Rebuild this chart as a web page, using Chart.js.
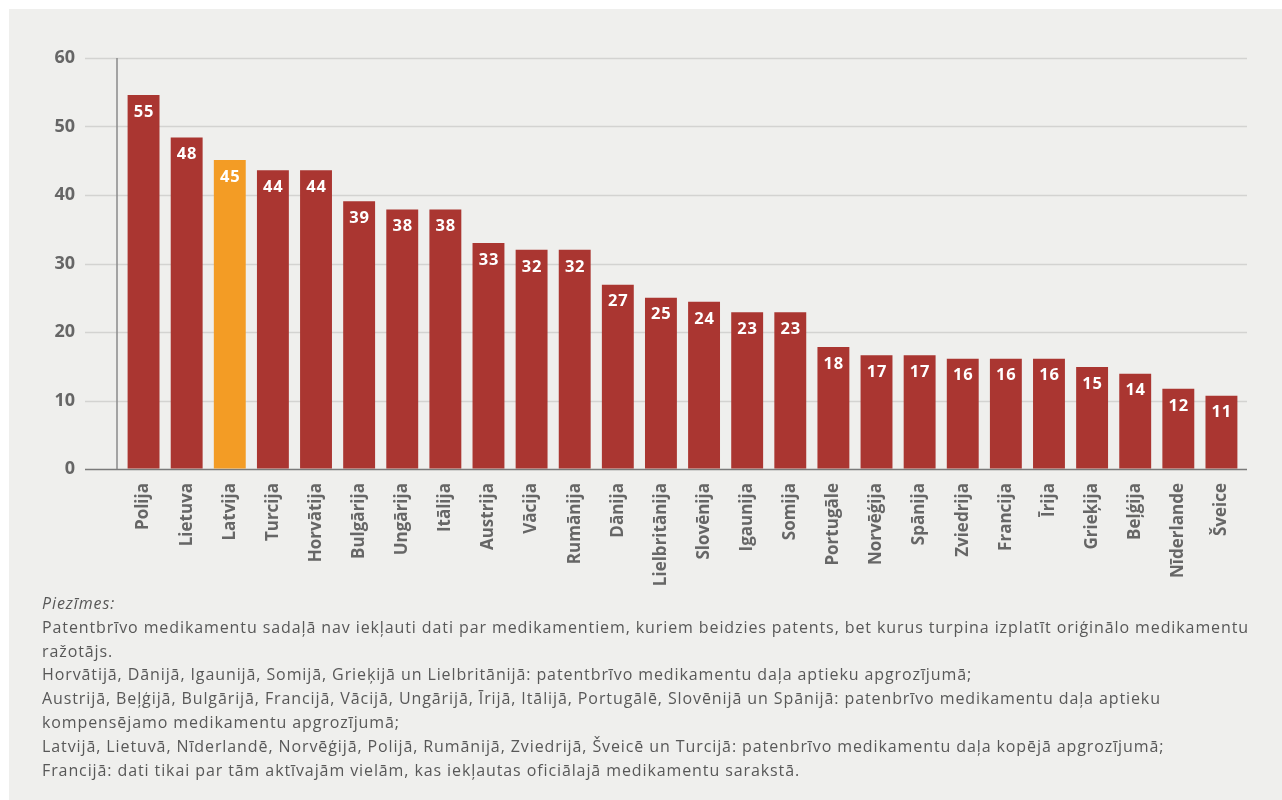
<!DOCTYPE html>
<html>
<head>
<meta charset="utf-8">
<script src="https://cdn.jsdelivr.net/npm/chart.js@4.4.1/dist/chart.umd.min.js"></script>
<style>
  body { margin: 0; background: #ffffff; }
  #panel { position: absolute; left: 9px; top: 9px; width: 1273px; height: 791px; background: #efefed; overflow: hidden; }
  #wrap { position: absolute; left: 0; top: 0; width: 1273px; height: 585px; }
  #piezimes { position: absolute; left: 33px; top: 583px; font-family: "Open Sans", sans-serif; font-size: 16px; letter-spacing: 0.9px; line-height: 23.8px; color: #585858; }
  #piezimes div { white-space: nowrap; }
</style>
</head>
<body>
<div id="panel">
  <div id="wrap"><canvas id="bieuDo"></canvas></div>
  <div id="piezimes">
    <div><i>Piezīmes:</i></div>
    <div>Patentbrīvo medikamentu sadaļā nav iekļauti dati par medikamentiem, kuriem beidzies patents, bet kurus turpina izplatīt oriģinālo medikamentu</div>
    <div>ražotājs.</div>
    <div>Horvātijā, Dānijā, Igaunijā, Somijā, Grieķijā un Lielbritānijā: patentbrīvo medikamentu daļa aptieku apgrozījumā;</div>
    <div>Austrijā, Beļģijā, Bulgārijā, Francijā, Vācijā, Ungārijā, Īrijā, Itālijā, Portugālē, Slovēnijā un Spānijā: patenbrīvo medikamentu daļa aptieku</div>
    <div>kompensējamo medikamentu apgrozījumā;</div>
    <div>Latvijā, Lietuvā, Nīderlandē, Norvēģijā, Polijā, Rumānijā, Zviedrijā, Šveicē un Turcijā: patenbrīvo medikamentu daļa kopējā apgrozījumā;</div>
    <div>Francijā: dati tikai par tām aktīvajām vielām, kas iekļautas oficiālajā medikamentu sarakstā.</div>
  </div>
</div>
<script>
// valstis un patentbrīvo medikamentu daļa (%)
const valstis = ['Polija', 'Lietuva', 'Latvija', 'Turcija', 'Horvātija', 'Bulgārija', 'Ungārija', 'Itālija',
  'Austrija', 'Vācija', 'Rumānija', 'Dānija', 'Lielbritānija', 'Slovēnija', 'Igaunija', 'Somija',
  'Portugāle', 'Norvēģija', 'Spānija', 'Zviedrija', 'Francija', 'Īrija', 'Grieķija', 'Beļģija', 'Nīderlande', 'Šveice'];
const vertibas = [54.6, 48.4, 45.1, 43.6, 43.6, 39.1, 37.9, 37.9, 33.0, 32.0, 32.0, 26.9, 25.0, 24.4, 22.9, 22.9,
  17.8, 16.6, 16.6, 16.1, 16.1, 16.1, 14.9, 13.9, 11.7, 10.7];
const yTicks = [0, 10, 20, 30, 40, 50, 60];
const izcelta = 'Latvija';

const sarkans = '#aa3631';
const oranzs = '#f39c25';
const krasas = valstis.map(v => v === izcelta ? oranzs : sarkans);

// rezgis, ass un vertibu uzraksti
const zimetaji = {
    id: 'zimetaji',
    beforeDatasetsDraw(chart) {
        const c = chart.ctx;
        const a = chart.chartArea;
        const y = chart.scales.y;
        c.save();
        y.ticks.forEach(t => {
            const py = Math.round(y.getPixelForValue(t.value)) + 0.5;
            c.strokeStyle = t.value === 0 ? '#7a7a7a' : '#d3d3d1';
            c.lineWidth = 1.5;
            c.beginPath();
            c.moveTo(a.left - 37, py);
            c.lineTo(a.right + 4, py);
            c.stroke();
        });
        c.strokeStyle = '#8a8a8a';
        c.lineWidth = 1.5;
        c.beginPath();
        c.moveTo(a.left - 5, a.top);
        c.lineTo(a.left - 5, a.bottom);
        c.stroke();
        c.restore();
    },
    afterDatasetsDraw(chart) {
        const c = chart.ctx;
        const meta = chart.getDatasetMeta(0);
        c.save();
        c.fillStyle = '#ffffff';
        c.font = 'bold 16.5px "Open Sans", sans-serif';
        c.letterSpacing = '0.8px';
        c.textAlign = 'center';
        c.textBaseline = 'middle';
        meta.data.forEach((bar, i) => {
            c.fillText(Math.round(vertibas[i]), bar.x + 0.4, bar.y + 17);
        });
        c.restore();
    }
};

new Chart(document.getElementById('bieuDo').getContext('2d'), {
    type: 'bar',
    data: {
        labels: valstis,
        datasets: [{
            data: vertibas,
            backgroundColor: krasas,
            categoryPercentage: 1,
            barPercentage: 0.74
        }]
    },
    options: {
        responsive: true,
        maintainAspectRatio: false,
        animation: false,
        layout: { padding: { top: 49, right: 39, left: 0, bottom: 0 } },
        plugins: {
            legend: { display: false },
            tooltip: { enabled: false }
        },
        scales: {
            x: {
                grid: { display: false },
                border: { display: false },
                ticks: {
                    maxRotation: 90,
                    minRotation: 90,
                    autoSkip: false,
                    padding: 6,
                    color: '#666666',
                    font: { family: '"Open Sans", sans-serif', size: 17, weight: 'bold' }
                },
                afterFit(scale) { scale.height = 125; }
            },
            y: {
                min: 0,
                max: 60,
                afterBuildTicks(scale) { scale.ticks = yTicks.map(v => ({ value: v })); },
                grid: { display: true, drawOnChartArea: false, drawTicks: true, tickLength: 37, color: 'rgba(0,0,0,0)' },
                border: { display: false },
                ticks: {
                    padding: 10,
                    color: '#666666',
                    font: { family: '"Open Sans", sans-serif', size: 18, weight: 'bold' }
                },
                afterFit(scale) { scale.width = 113; }
            }
        }
    },
    plugins: [zimetaji]
});
</script>
</body>
</html>
